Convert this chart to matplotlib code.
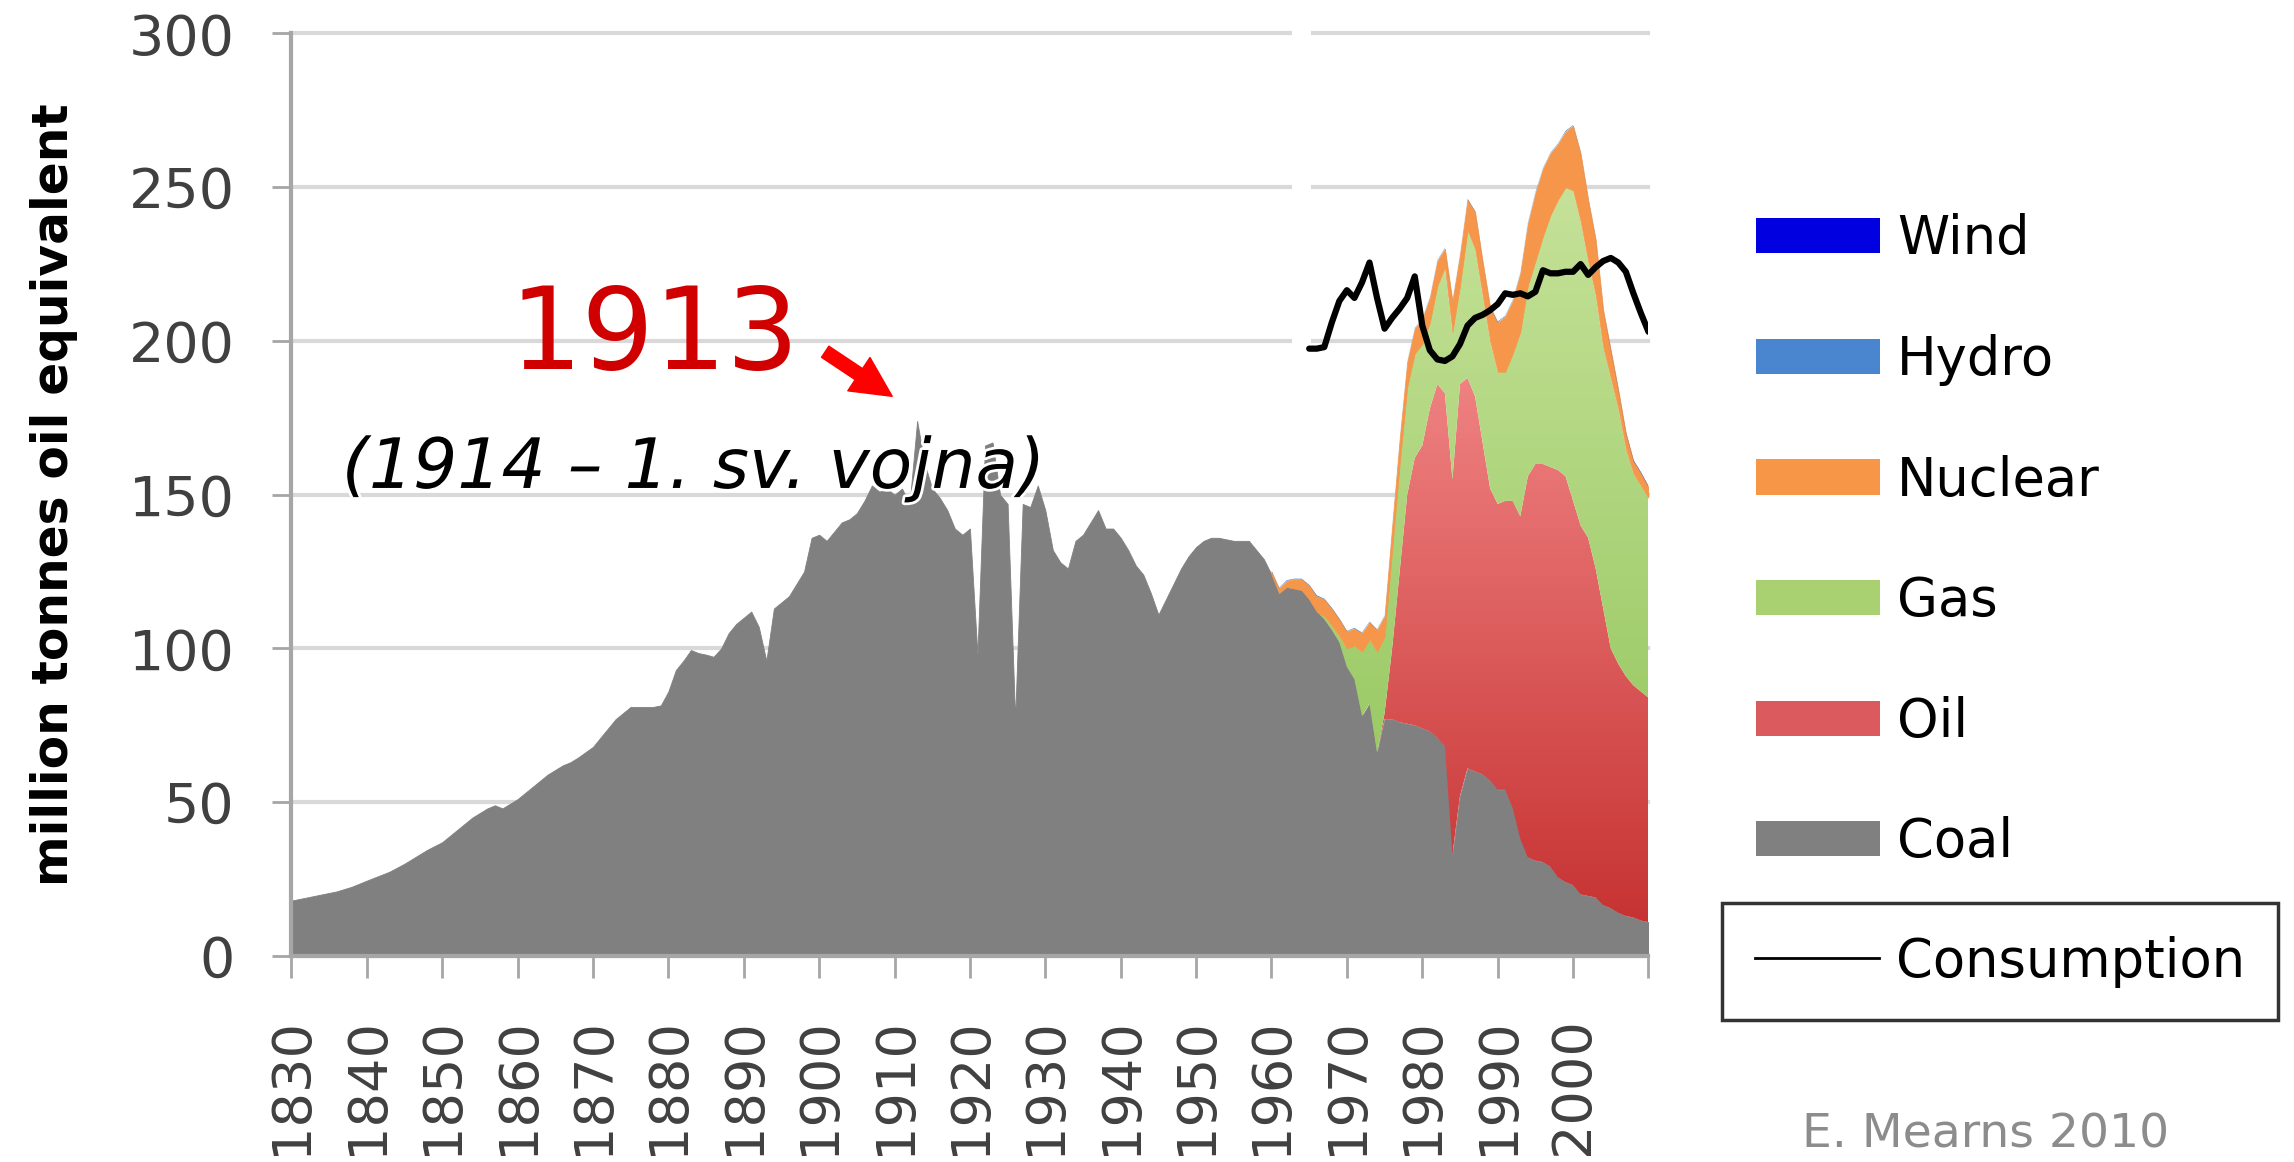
import numpy as np
import matplotlib
matplotlib.use("Agg")
import matplotlib.pyplot as plt
from matplotlib.colors import LinearSegmentedColormap
from matplotlib.patches import Patch
from matplotlib.lines import Line2D
import matplotlib.patheffects as pe

# ---- data (million tonnes oil equivalent) ----
# coal only, 1830-1959 (uneven spacing)
early_years = [1830, 1833, 1836, 1838, 1840, 1843, 1845, 1848, 1850, 1852,
               1854, 1856, 1857, 1858, 1860, 1862, 1864, 1866, 1867, 1868,
               1870, 1871, 1873, 1875, 1876, 1878, 1879, 1880, 1881, 1882,
               1883, 1884, 1885, 1886, 1887, 1888, 1889, 1890, 1891, 1892,
               1893, 1894, 1895, 1896, 1897, 1898, 1899, 1900, 1901, 1902,
               1903, 1904, 1905, 1906, 1907, 1908, 1909, 1910, 1911, 1912,
               1913, 1914, 1915, 1916, 1917, 1918, 1919, 1920, 1921, 1922,
               1923, 1924, 1925, 1926, 1927, 1928, 1929, 1930, 1931, 1932,
               1933, 1934, 1935, 1936, 1937, 1938, 1939, 1940, 1941, 1942,
               1943, 1944, 1945, 1946, 1947, 1948, 1949, 1950, 1951, 1952,
               1953, 1954, 1955, 1956, 1957, 1958, 1959]
early_coal = [18, 19.5, 21, 22.5, 24.5, 27.4, 30, 34.5, 37, 41,
              45, 48, 49, 48, 51, 55, 59, 62, 63, 64.5,
              68, 71, 77, 81, 81, 81, 81.5, 86, 93, 96,
              99.5, 98.5, 98, 97.3, 100, 105, 108, 110, 112, 107,
              96, 113, 115, 117, 121, 125, 136, 137, 135, 138,
              141, 142, 144, 148, 153, 151, 152, 150, 152, 147,
              174, 160, 152, 149, 145, 139, 137, 139, 98, 166,
              167, 150, 147, 77, 147, 146, 153, 145, 132, 128,
              126, 135, 137, 141, 145, 139, 139, 136, 132, 127,
              124, 118, 111, 116, 121, 126, 130, 133, 135, 136,
              136, 135.5, 135, 135, 135, 132, 129]

# 1960-2010, one value per year
modern_years = list(range(1960, 2011))
modern_coal = [124, 118, 120, 119.5, 119, 116, 112, 109.5, 106, 102,
               94, 90, 78, 82, 66, 77, 77, 76, 75.5, 75,
               74, 73, 71, 68, 33, 52, 61, 60, 59, 57,
               54, 54, 48, 38, 32, 31, 30.5, 29, 25.5, 24,
               23, 20, 19.5, 19, 16.5, 15.5, 14, 13, 12.5, 11.5,
               11]
oil = [0, 0, 0, 0, 0, 0, 0, 0, 0, 0,
       0, 0, 0, 0, 0, 2, 23, 49, 74.5, 87,
       92, 105, 115, 115, 122, 134, 127, 122, 108, 95,
       93, 94, 100, 105, 124, 129, 129.5, 130, 132.5, 132,
       125, 120, 116.5, 107, 96.5, 84.5, 81, 78, 75.5, 74.5,
       73]
gas = [0, 0, 0, 0, 0, 0, 0, 1, 1.5, 2,
       6, 11, 21, 21, 33, 25, 32, 35, 35, 34,
       33, 28, 32, 41, 48, 32, 48, 48, 48, 48,
       43, 42, 48, 60, 62, 66, 74, 82, 88, 94,
       101, 99, 90, 89, 85, 88, 83, 74, 69, 67,
       65]
nuclear = [1, 1.5, 2, 3, 3.5, 4.5, 5, 5.5, 5.5, 5.5,
           5.5, 5.5, 6, 5.5, 7, 6.5, 7.5, 8, 8, 8,
           8, 8, 8, 6, 10, 10, 10, 12, 11, 11,
           16, 18, 17, 19, 20, 22, 22, 20, 18, 18,
           21, 22, 20, 18, 12, 9, 6, 5, 4, 4,
           3.5]
hydro = [0.2, 0.2, 0.2, 0.2, 0.2, 0.2, 0.3, 0.2, 0.2, 0.2,
         0.2, 0.2, 0.2, 0.2, 0.2, 0.2, 0.2, 0.2, 0.2, 0.2,
         0.2, 0.2, 0.2, 0.2, 0.2, 0.2, 0.2, 0.2, 0.2, 0.2,
         0.3, 0.2, 0.3, 0.2, 0.3, 0.3, 0.2, 0.2, 0.2, 0.3,
         0.2, 0.2, 0.2, 0.2, 0.2, 0.2, 0.2, 0.2, 0.2, 0.2,
         0.2]
wind = [0, 0, 0, 0, 0, 0, 0, 0, 0, 0,
        0, 0, 0, 0, 0, 0, 0, 0, 0, 0,
        0, 0, 0, 0, 0, 0, 0, 0, 0, 0,
        0, 0, 0, 0, 0, 0, 0, 0, 0, 0,
        0, 0, 0, 0, 0, 0.1, 0.1, 0.1, 0.1, 0.1,
        0.1]

cons_years = list(range(1965, 2011))
consumption = [197.5, 197.5, 198, 206, 213, 216.5, 214, 219, 225.5, 214,
               204, 207.5, 210.5, 214, 221, 205, 197, 194, 193.5, 195,
               199, 205, 207.5, 208.5, 210, 212, 215.5, 215, 215.5, 214.5,
               216, 223, 222, 222, 222.5, 222.5, 225, 221.5, 224, 226,
               227, 225.5, 222.5, 215.5, 209, 203]

tick_years = list(range(1830, 2011, 10))
tick_labels = [str(y) for y in range(1830, 2001, 10)] + [""]

legend_names = ["Wind", "Hydro", "Nuclear", "Gas", "Oil", "Coal"]
legend_colors = ["#0000E0", "#4A86D0", "#F79646", "#A9D071", "#DA5A5E", "#808080"]


def gradient_band(ax, x, lo, hi, c_bottom, c_top, y_top, z):
    band = ax.fill_between(x, lo, hi, facecolor="none", lw=0, zorder=z)
    cmap = LinearSegmentedColormap.from_list("band", [c_bottom, c_top])
    img = ax.imshow(np.linspace(0, 1, 256).reshape(-1, 1), cmap=cmap,
                    origin="lower", aspect="auto", interpolation="bilinear",
                    extent=(x[0], x[-1], 0, y_top), zorder=z)
    img.set_clip_path(band.get_paths()[0], transform=ax.transData)


fig = plt.figure(figsize=(22.94, 11.62), dpi=100)
ax = fig.add_axes([0.1270, 0.1773, 0.5916, 0.7939])

years = np.array(early_years + modern_years, dtype=float)
coal = np.array(early_coal + modern_coal, dtype=float)
ax.fill_between(years, 0, coal, facecolor="#808080", edgecolor="#808080",
                lw=0.6, zorder=2)

mx = np.array(modern_years, dtype=float)
b0 = np.array(modern_coal, dtype=float)
b1 = b0 + np.array(oil)
b2 = b1 + np.array(gas)
b3 = b2 + np.array(nuclear)
b4 = b3 + np.array(hydro)
b5 = b4 + np.array(wind)

gradient_band(ax, mx, b0, b1, (0.77, 0.18, 0.18), (0.95, 0.53, 0.53), 200, 3)
gradient_band(ax, mx, b1, b2, (0.55, 0.76, 0.33), (0.80, 0.90, 0.63), 280, 3)
ax.fill_between(mx, b2, b3, facecolor="#F5964A", edgecolor="#F5964A", lw=0.5, zorder=4)
ax.fill_between(mx, b3, b4, facecolor="#4A86D0", lw=0, zorder=4)
ax.fill_between(mx, b4, b5, facecolor="#0000E0", lw=0, zorder=4)

ax.plot(cons_years, consumption, color="black", lw=4.5, zorder=6,
        solid_joinstyle="round", solid_capstyle="round")

ax.set_xlim(1830, 2010)
ax.set_ylim(0, 300)
ax.set_yticks(range(0, 301, 50))
ax.set_xticks(tick_years)
ax.set_xticklabels(tick_labels)

ax.set_axisbelow(True)
ax.yaxis.grid(True, color="#D9D9D9", lw=3)
for gl in ax.get_ygridlines():
    gl.set_clip_on(False)
ax.axvspan(1962.7, 1965.3, ymin=0.62, ymax=1.01, color="white", lw=0,
           zorder=0.8, clip_on=False)

for s in ["top", "right"]:
    ax.spines[s].set_visible(False)
for s in ["left", "bottom"]:
    ax.spines[s].set_color("#A6A6A6")
    ax.spines[s].set_linewidth(3)

ax.tick_params(axis="y", length=14, width=2, color="#A6A6A6", pad=27,
               labelsize=40, labelcolor="#404040")
ax.tick_params(axis="x", length=16, width=2, color="#A6A6A6", pad=28,
               labelsize=39, labelrotation=90, labelcolor="#404040")

ax.set_ylabel("million tonnes oil equivalent", fontsize=35, fontweight="bold",
              va="center")
ax.yaxis.set_label_coords(-0.175, 0.5)

# annotation
ax.text(1878.1, 190.9, "1913", ha="center", va="baseline", fontsize=82,
        color="#D00000")
ax.annotate("", xy=(1910.0, 181.5), xytext=(1900.5, 197.0),
            arrowprops=dict(arrowstyle="simple,head_length=0.9,head_width=0.9,tail_width=0.3",
                            color="#FF0000", mutation_scale=32))
ax.text(1883.4, 152.2, "(1914 \u2013 1. sv. vojna)", ha="center", va="baseline",
        fontsize=50, style="italic", color="black", zorder=7,
        path_effects=[pe.withStroke(linewidth=4, foreground="white")])

# legends
fill_handles = [Patch(facecolor=c, edgecolor="none", label=n)
                for n, c in zip(legend_names, legend_colors)]
fig.legend(handles=fill_handles, loc="upper left", bbox_to_anchor=(0.7655, 0.8164),
           frameon=False, fontsize=38, handlelength=2.35, handleheight=0.65,
           handletextpad=0.32, labelspacing=1.30, borderpad=0, borderaxespad=0)
leg2 = fig.legend(handles=[Line2D([], [], color="black", lw=2, label="Consumption")],
                  loc="upper left", bbox_to_anchor=(0.7507, 0.2229), frameon=True,
                  fancybox=False, edgecolor="black", fontsize=38, handlelength=2.35,
                  handletextpad=0.32, borderpad=0.62, borderaxespad=0)
leg2.get_frame().set_linewidth(2.5)

fig.text(1802 / 2294, 0.004, "E. Mearns 2010", ha="left", va="bottom",
         fontsize=34, color="#8C8C8C")

fig.savefig("out.png", dpi=100)
